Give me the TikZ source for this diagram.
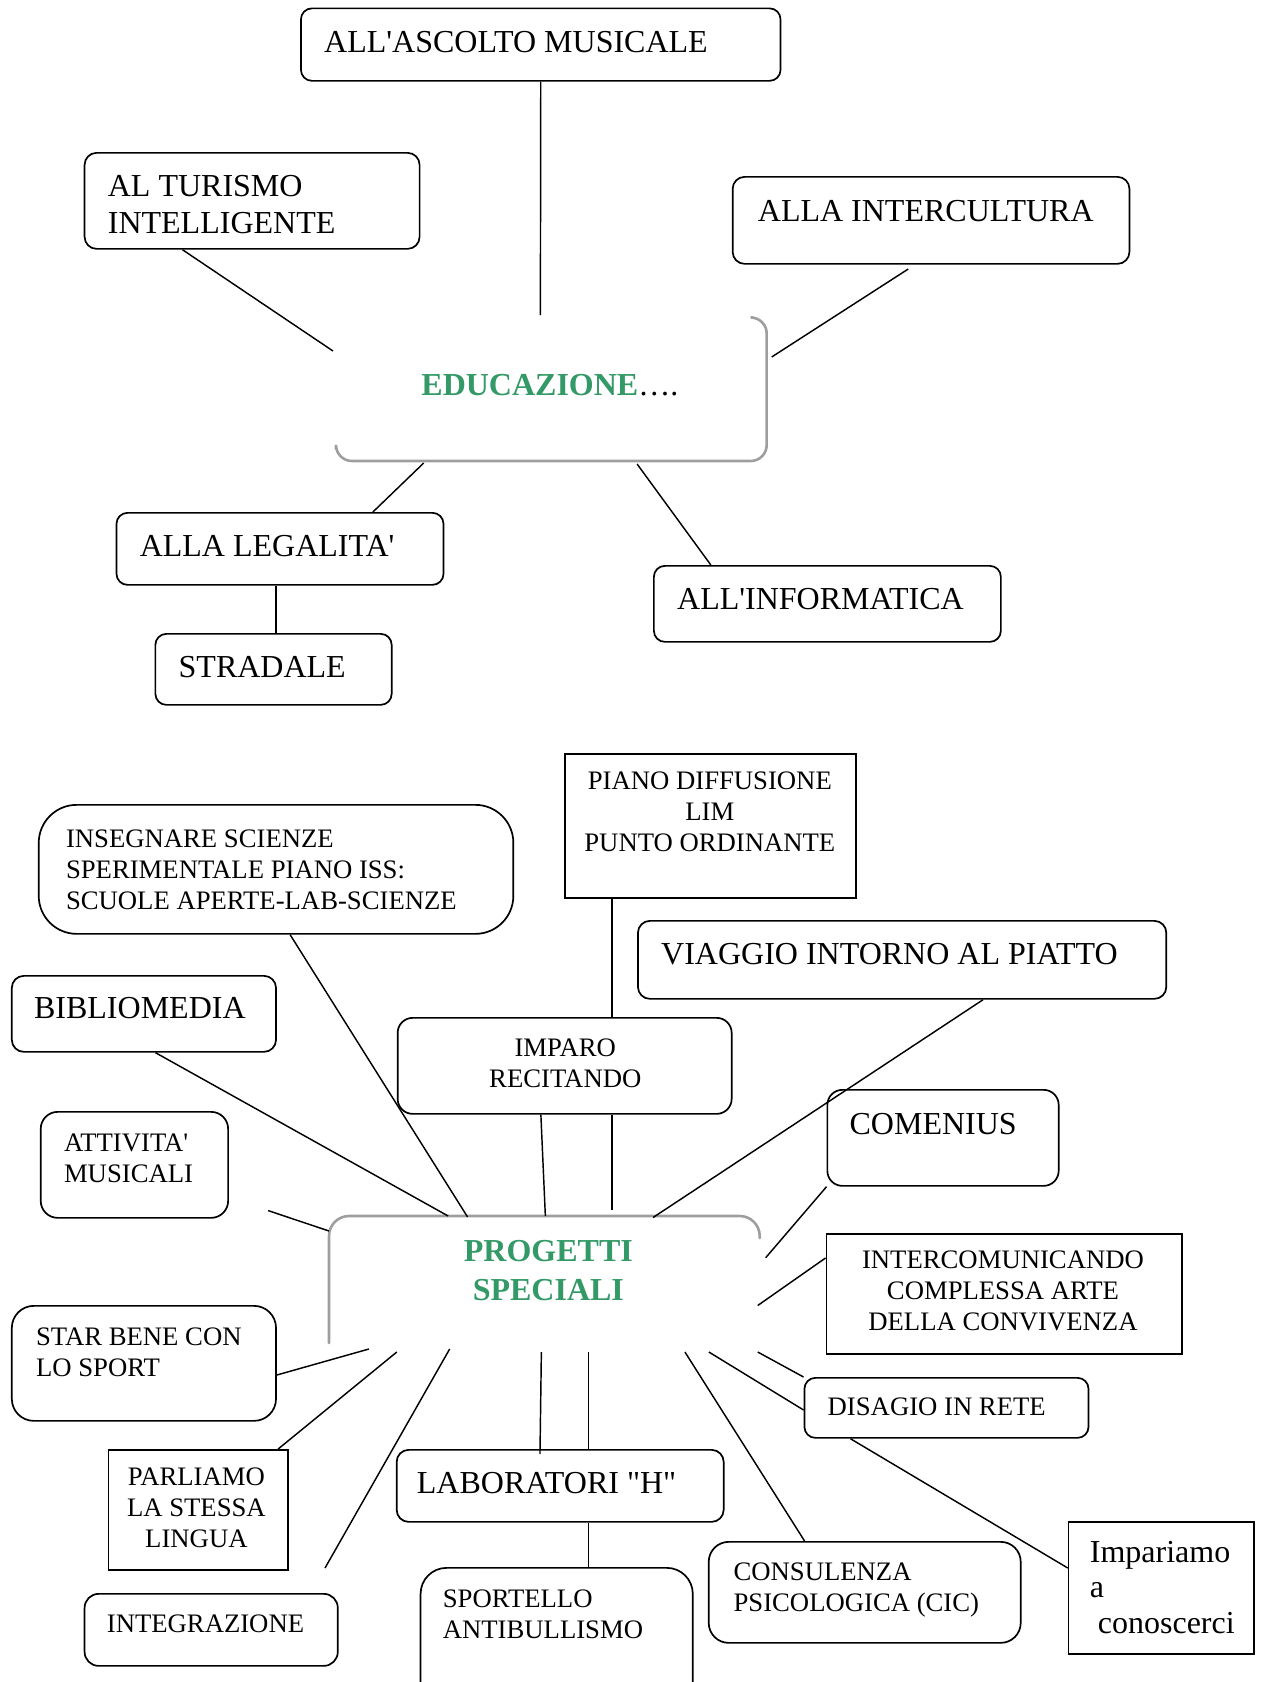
\documentclass[tikz,border=0pt]{standalone}
\usepackage{fontspec}
\setmainfont{Liberation Serif}[Ligatures=TeXOff]
\definecolor{edugreen}{RGB}{51,153,102}
\begin{document}
\begin{tikzpicture}[x=0.997pt,y=-1pt,
  rb/.style={draw, line width=1.7, rounded corners=#1, anchor=north west, inner sep=0pt},
  sq/.style={draw, line width=1.7, anchor=north west, inner sep=0pt},
  big/.style={inner sep=0pt, font=\fontsize{32}{36.6}\selectfont},
  small/.style={inner sep=0pt, font=\fontsize{26.7}{31}\selectfont},
  conn/.style={line width=1.45},
  shad/.style={draw=black!38, line width=2.6, line cap=round}]
\useasboundingbox (0,0) rectangle (1264.8,1682);
\clip (0,0) rectangle (1264.8,1682);

% ---------- top: EDUCAZIONE ----------
\node[inner sep=0pt, minimum width=433.7, minimum height=144, anchor=north west] (edu) at (335,317) {};
\draw[shad, rounded corners=16] (755,317.5) -- (769,317.5) -- (769,461) -- (337,461) -- (337,449);
\node[inner sep=0pt, anchor=base west, font=\fontsize{32}{36.6}\selectfont] (eduT) at (422.5,395) {\textbf{\color{edugreen}EDUCAZIONE}….};

\node[rb=11, minimum width=479.6, minimum height=72.5] (ascolto) at (301,7.5) {};
\node[big, anchor=north west, align=left] (ascoltoT) at (325,30.8) {ALL'ASCOLTO MUSICALE};

\node[rb=12, minimum width=335, minimum height=96] (turismo) at (84,152) {};
\node[big, anchor=north west, align=left] (turismoT) at (108,175.2) {AL TURISMO\\INTELLIGENTE};

\node[rb=12, minimum width=396.8, minimum height=87] (intercultura) at (734,176) {};
\node[big, anchor=north west, align=left] (interculturaT) at (760,199.8) {ALLA INTERCULTURA};

\node[rb=11, minimum width=327, minimum height=72] (legalita) at (116,512) {};
\node[big, anchor=north west, align=left] (legalitaT) at (140,534.8) {ALLA LEGALITA'};

\node[rb=11, minimum width=236.3, minimum height=71] (stradale) at (155,633) {};
\node[big, anchor=north west, align=left] (stradaleT) at (179,655.8) {STRADALE};

\node[rb=11, minimum width=347, minimum height=76] (informatica) at (655,565) {};
\node[big, anchor=north west, align=left] (informaticaT) at (679,587.8) {ALL'INFORMATICA};

\coordinate (e1) at (542,315);
\coordinate (e2) at (334,351);
\coordinate (e3a) at (911,269);
\coordinate (e3) at (774,357);
\coordinate (e4) at (425,463);
\coordinate (e5) at (639,464);
\draw[conn] (ascolto.south) -- (e1);
\draw[conn] (183,0 |- turismo.south) -- (e2);
\draw[conn] (e3a) -- (e3);
\draw[conn] (e4) -- (374,0 |- legalita.north);
\draw[conn] (e5) -- (713,0 |- informatica.north);
\draw[conn] (277,0 |- legalita.south) -- (277,0 |- stradale.north);

% ---------- bottom: PROGETTI SPECIALI ----------
\node[inner sep=0pt, minimum width=430.7, minimum height=129, anchor=north west] (prog) at (330,1216) {};
\draw[shad, rounded corners=20] (330,1343) -- (330,1216) -- (762,1216) -- (762,1238);
\node[inner sep=0pt, anchor=north, align=center, font=\fontsize{32}{38.5}\selectfont\bfseries, text=edugreen] (progT) at (550,1240.3) {PROGETTI\\SPECIALI};

\node[sq, minimum width=291.1, minimum height=144] (piano) at (566,753) {};
\node[small, anchor=north, align=center] (pianoT) at (712,771.3) {PIANO DIFFUSIONE\\LIM\\PUNTO ORDINANTE};

\node[rb=38, minimum width=474.6, minimum height=129] (insegnare) at (38,804) {};
\node[small, anchor=north west, align=left] (insegnareT) at (66,829.3) {INSEGNARE SCIENZE\\SPERIMENTALE PIANO ISS:\\SCUOLE APERTE-LAB-SCIENZE};

\node[rb=12, minimum width=528.4, minimum height=78] (viaggio) at (639,920) {};
\node[big, anchor=north west, align=left] (viaggioT) at (663,942.8) {VIAGGIO INTORNO AL PIATTO};

\node[rb=12, minimum width=264.2, minimum height=76] (bibliomedia) at (11,975) {};
\node[big, anchor=north west, align=left] (bibliomediaT) at (34,996.8) {BIBLIOMEDIA};

\node[rb=15, minimum width=334, minimum height=96] (imparo) at (398,1017) {};
\node[small, anchor=north, align=center] (imparoT) at (567,1038.3) {IMPARO\\RECITANDO};

\node[rb=15, minimum width=231.3, minimum height=96] (comenius) at (829,1089) {};
\node[big, anchor=north west, align=left] (comeniusT) at (852,1112.8) {COMENIUS};

\node[rb=17, minimum width=187.4, minimum height=106] (attivita) at (40,1111) {};
\node[small, anchor=north west, align=left] (attivitaT) at (64,1133.3) {ATTIVITA'\\MUSICALI};

\node[sq, minimum width=355.9, minimum height=120] (intercom) at (828,1233) {};
\node[small, anchor=north, align=center] (intercomT) at (1006,1250.3) {INTERCOMUNICANDO\\COMPLESSA ARTE\\DELLA CONVIVENZA};

\node[rb=22, minimum width=264.2, minimum height=115] (starbene) at (11,1305) {};
\node[small, anchor=north west, align=left] (starbeneT) at (36,1327.3) {STAR BENE CON\\LO SPORT};

\node[rb=11, minimum width=284.1, minimum height=60] (disagio) at (806,1377) {};
\node[small, anchor=north west, align=left] (disagioT) at (830,1397.3) {DISAGIO IN RETE};

\node[sq, minimum width=179.5, minimum height=120] (parliamo) at (108,1449) {};
\node[small, anchor=north, align=center] (parliamoT) at (197,1467.3) {PARLIAMO\\LA STESSA\\LINGUA};

\node[rb=12, minimum width=327, minimum height=72] (laboratori) at (397,1449) {};
\node[big, anchor=north west, align=left] (laboratoriT) at (418,1471.8) {LABORATORI "H"};

\node[sq, minimum width=185.4, minimum height=132] (impariamo) at (1071,1521) {};
\node[inner sep=0pt, font=\fontsize{32}{35.5}\selectfont, anchor=north west, align=left] (impariamoT) at (1093,1540.8) {Impariamo\\a\\\hspace*{8pt}conoscerci};

\node[rb=20, minimum width=312, minimum height=101] (consulenza) at (710,1541) {};
\node[small, anchor=north west, align=left] (consulenzaT) at (735.6,1563) {CONSULENZA\\PSICOLOGICA (CIC)};

\node[rb=14, minimum width=253.2, minimum height=72] (integrazione) at (84,1593) {};
\node[small, anchor=north west, align=left] (integrazioneT) at (107,1614.3) {INTEGRAZIONE};

\node[rb=26, minimum width=272.2, minimum height=160] (sportello) at (421,1567) {};
\node[small, anchor=north west, align=left] (sportelloT) at (444,1589.3) {SPORTELLO\\ANTIBULLISMO};

% free ends near PROGETTI SPECIALI
\coordinate (p7) at (469,1217);
\coordinate (p9) at (614,1210);
\coordinate (p10) at (547,1216);
\coordinate (p11) at (655,1217.5);
\coordinate (p12) at (449.5,1216);
\coordinate (p13a) at (269,1210.6);
\coordinate (p13) at (330,1231);
\coordinate (p14) at (768,1257.7);
\coordinate (p15) at (760,1305.5);
\coordinate (p16) at (760,1352);
\coordinate (p17) at (711,1352);
\coordinate (p19) at (687,1352);
\coordinate (p20a) at (543,1352);
\coordinate (p20) at (541.6,1454);
\coordinate (p21) at (590,1352);
\coordinate (p23) at (370,1349);
\coordinate (p24) at (398,1352);
\coordinate (p25a) at (451,1349);
\coordinate (p25) at (326,1568);

\draw[conn] (291,0 |- insegnare.south) -- (p7);
\draw[conn] (614,0 |- piano.south) -- (614,0 |- imparo.north);
\draw[conn] (614,0 |- imparo.south) -- (p9);
\draw[conn] (542.5,0 |- imparo.south) -- (p10);
\draw[conn] (986,0 |- viaggio.south) -- (p11);
\draw[conn] (156,0 |- bibliomedia.south) -- (p12);
\draw[conn] (p13a) -- (p13);
\draw[conn] (comenius.south west) -- (p14);
\draw[conn] (intercom.west |- 0,1258) -- (p15);
\draw[conn] (disagio.north west) -- (p16);
\draw[conn] (disagio.west |- 0,1410) -- (p17);
\draw[conn] (853,0 |- disagio.south) -- (impariamo.west |- 0,1568);
\draw[conn] (p19) -- (807,0 |- consulenza.north);
\draw[conn] (p20a) -- (p20);
\draw[conn] (p21) -- (590,0 |- laboratori.north);
\draw[conn] (590,0 |- laboratori.south) -- (590,0 |- sportello.north);
\draw[conn] (p23) -- (starbene.east |- 0,1375);
\draw[conn] (p24) -- (279,0 |- parliamo.north);
\draw[conn] (p25a) -- (p25);
\end{tikzpicture}
\end{document}
